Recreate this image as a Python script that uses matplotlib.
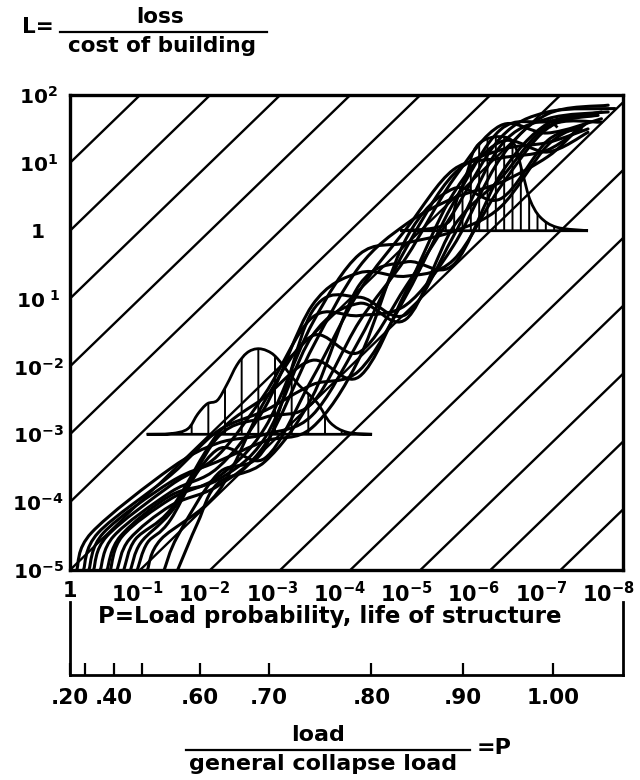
import numpy as np
import matplotlib
matplotlib.use("Agg")
import matplotlib.pyplot as plt
from matplotlib.path import Path
from matplotlib.patches import PathPatch
from matplotlib.lines import Line2D
from matplotlib.ticker import NullLocator

plt.rcParams['font.family'] = ['DejaVu Sans']
plt.rcParams['font.weight'] = 'bold'
plt.rcParams['mathtext.fontset'] = 'dejavusans'
plt.rcParams['mathtext.default'] = 'bf'
plt.rcParams['hatch.linewidth'] = 1.4

# ---------------- data (decade exponents) ----------------
# x: e = -log10(P) ; y: log10(L)
x_exp_limits = (0.0, 8.22)
y_exp_limits = (-5.0, 2.0)

x_tick_exps = [0, 1, 2, 3, 4, 5, 6, 7, 8]
x_tick_labels = ['1', r'$10^{-1}$', r'$10^{-2}$', r'$10^{-3}$', r'$10^{-4}$',
                 r'$10^{-5}$', r'$10^{-6}$', r'$10^{-7}$', r'$10^{-8}$']
y_tick_exps = [2, 1, 0, -1, -2, -3, -4, -5]
y_tick_labels = [r'$10^{2}$', r'$10^{1}$', '1', r'$10^{\ 1}$', r'$10^{-2}$',
                 r'$10^{-3}$', r'$10^{-4}$', r'$10^{-5}$']

# secondary scale: load / general collapse load
ratio_values = [0.20, 0.30, 0.40, 0.50, 0.60, 0.70, 0.80, 0.90, 1.00]
ratio_labels = ['.20', '', '.40', '', '.60', '.70', '.80', '.90', '1.00']
ratio_P_exps = [0.0, 0.22, 0.65, 1.07, 1.93, 2.96, 4.48, 5.84, 7.18]

# diagonal reference lines  log10 L = k + slope * (-log10 P)
diag_offsets = [1, 0, -1, -2, -3, -4, -5, -6, -7, -8, -9, -10, -11, -12, -13]
diag_slope = 0.96

# loss curves: (-log10 P, log10 L)
curve_01 = [(0.10, -5.0), (0.32, -4.45), (1.5, -3.5), (2.2, -3.13), (2.9, -3.0), (3.6, -2.72),
            (4.3, -1.61), (5.0, -0.25), (5.7, 0.83), (6.4, 1.19), (7.1, 1.30), (7.7, 1.50)]
curve_02 = [(0.20, -5.0), (0.42, -4.45), (1.5, -3.6), (2.2, -2.95), (2.9, -2.65), (3.6, -2.27),
            (4.3, -2.06), (5.0, -0.95), (5.7, 0.41), (6.4, 1.49), (7.1, 1.61), (7.9, 1.75)]
curve_03 = [(0.35, -5.0), (0.55, -4.5), (1.5, -3.75), (2.2, -3.31), (2.9, -2.4), (3.6, -1.28),
            (4.3, -1.25), (5.0, -1.09), (5.7, -0.22), (6.4, 1.07), (7.1, 1.72), (8.0, 1.85)]
curve_04 = [(0.45, -5.0), (0.65, -4.5), (1.5, -3.85), (2.2, -3.49), (2.9, -2.6), (3.6, -1.1),
            (4.3, -0.62), (5.0, -0.67), (5.7, -0.43), (6.4, 0.65), (7.1, 1.51), (7.8, 1.70)]
curve_05 = [(0.60, -5.0), (0.78, -4.5), (1.5, -3.95), (2.2, -3.63), (2.9, -2.9), (3.6, -1.37),
            (4.3, -0.35), (5.0, -0.18), (5.7, -0.01), (6.4, 0.35), (7.1, 1.26), (7.6, 1.55)]
curve_06 = [(0.70, -5.0), (0.88, -4.55), (1.5, -4.05), (2.2, -3.76), (2.9, -3.15), (3.6, -1.73),
            (4.3, -0.53), (5.0, 0.10), (5.7, 0.48), (6.4, 0.71), (7.1, 1.09), (7.5, 1.45)]
curve_07 = [(0.90, -5.0), (1.05, -4.6), (1.5, -4.15), (2.2, -3.22), (2.9, -3.35), (3.6, -2.18),
            (4.3, -0.89), (5.0, 0.03), (5.7, 0.90), (6.4, 1.07), (7.1, 1.19), (7.7, 1.60)]
curve_08 = [(1.00, -5.0), (1.15, -4.6), (1.5, -4.25), (2.2, -3.04), (2.9, -2.75), (3.6, -2.54),
            (4.3, -1.34), (5.0, -0.39), (5.7, 0.76), (6.4, 1.55), (7.1, 1.44), (7.9, 1.65)]
curve_09 = [(1.15, -5.0), (1.35, -4.55), (2.2, -3.85), (2.9, -2.5), (3.6, -1.55), (4.3, -1.79),
            (5.0, -0.81), (5.7, 0.27), (6.4, 1.37), (7.1, 1.75), (8.1, 1.80)]
curve_10 = [(1.40, -5.0), (1.60, -4.5), (2.2, -3.58), (2.9, -3.2), (3.6, -1.19), (4.3, -0.98),
            (5.0, -1.23), (5.7, -0.08), (6.4, 1.25), (7.1, 1.65), (8.0, 1.75)]
curve_11 = [(1.60, -5.0), (1.90, -4.3), (2.2, -3.72), (2.9, -3.4), (3.6, -2.45), (4.3, -0.8),
            (5.0, -0.46), (5.7, -0.5), (6.4, 0.83), (7.1, 1.58), (7.85, 1.70)]
curve_12 = [(0.28, -5.0), (0.50, -4.45), (1.5, -3.7), (2.2, -3.4), (2.9, -3.1), (3.6, -2.9),
            (4.3, -1.88), (5.0, -0.11), (5.7, 0.62), (6.4, 0.47), (7.1, 1.33), (7.6, 1.50)]
curve_13 = [(0.80, -5.0), (0.97, -4.55), (1.5, -4.1), (2.2, -2.99), (2.9, -2.45), (3.6, -1.91),
            (4.3, -2.15), (5.0, -0.88), (5.7, 0.55), (6.4, 1.31), (7.1, 1.16), (7.7, 1.45)]
curve_14 = [(0.55, -5.0), (0.75, -4.5), (1.5, -3.9), (2.2, -3.67), (2.9, -3.05), (3.6, -1.55),
            (4.3, -1.07), (5.0, -1.3), (5.7, 0.06), (6.4, 0.77), (7.1, 1.54), (7.9, 1.60)]
loss_curves = [curve_01, curve_02, curve_03, curve_04, curve_05, curve_06, curve_07,
               curve_08, curve_09, curve_10, curve_11, curve_12, curve_13, curve_14]

# hatched distributions (outline above a baseline decade)
lower_bell = [(1.14, -3.0), (1.5, -2.99), (1.75, -2.92), (1.9, -2.7), (2.04, -2.55), (2.19, -2.5),
              (2.33, -2.27), (2.48, -1.98), (2.63, -1.8), (2.78, -1.74), (2.93, -1.77),
              (3.08, -1.88), (3.38, -2.25), (3.67, -2.53), (3.87, -2.83), (4.12, -2.97), (4.49, -3.0)]
upper_bell = [(4.91, 0.0), (5.4, 0.04), (5.65, 0.15), (5.75, 0.45), (5.9, 0.85), (5.99, 1.15),
              (6.1, 1.3), (6.29, 1.38), (6.5, 1.37), (6.62, 1.24), (6.74, 0.8), (6.84, 0.45),
              (6.99, 0.2), (7.24, 0.05), (7.7, 0.0)]
marker_point = (7.18, 1.59)


def smooth_path(points, close=False):
    pts = np.asarray(points, float)
    n = len(pts)
    verts = [pts[0]]
    codes = [Path.MOVETO]
    for i in range(n - 1):
        p0 = pts[max(i - 1, 0)]
        p1 = pts[i]
        p2 = pts[i + 1]
        p3 = pts[min(i + 2, n - 1)]
        verts += [p1 + (p2 - p0) / 6.0, p2 - (p3 - p1) / 6.0, p2]
        codes += [Path.CURVE4] * 3
    if close:
        verts += [pts[0], pts[0]]
        codes += [Path.LINETO, Path.CLOSEPOLY]
    v = np.asarray(verts)
    data = np.column_stack([10.0 ** (-v[:, 0]), 10.0 ** v[:, 1]])
    return Path(data, codes)


W, H = 640, 780
fig = plt.figure(figsize=(W / 100, H / 100), dpi=100)

ax_l, ax_r, ax_t, ax_b = 70, 623, 95, 570
ax = fig.add_axes([ax_l / W, 1 - ax_b / H, (ax_r - ax_l) / W, (ax_b - ax_t) / H])
ax.set_xscale('log')
ax.set_yscale('log')
ax.set_xlim(10 ** -x_exp_limits[0], 10 ** -x_exp_limits[1])
ax.set_ylim(10 ** y_exp_limits[0], 10 ** y_exp_limits[1])

# diagonal lines
u_line = np.array([-2.0, 12.0])
for k in diag_offsets:
    ax.plot(10.0 ** (-u_line), 10.0 ** (k + diag_slope * u_line), color='black', lw=1.7,
            solid_capstyle='butt')

# bells
for bell, hatch in [(lower_bell, '|'), (upper_bell, '||')]:
    ax.add_patch(PathPatch(smooth_path(bell, close=True), facecolor='none',
                           edgecolor='black', lw=2.0, hatch=hatch))

# loss curves
for c in loss_curves:
    ax.add_patch(PathPatch(smooth_path(c), facecolor='none', edgecolor='black', lw=2.2,
                           capstyle='round', joinstyle='round'))

ax.plot([10 ** -marker_point[0]], [10 ** marker_point[1]], marker='x', color='black',
        ms=6, mew=2.0)

for s in ax.spines.values():
    s.set_linewidth(2.4)

ax.xaxis.set_minor_locator(NullLocator())
ax.yaxis.set_minor_locator(NullLocator())
ax.set_xticks([10.0 ** -e for e in x_tick_exps], x_tick_labels)
ax.set_yticks([10.0 ** e for e in y_tick_exps], y_tick_labels)
ax.tick_params(axis='both', length=0, labelsize=15)
ax.tick_params(axis='y', labelsize=14.5, pad=23)
ax.tick_params(axis='x', pad=8)
for lab in ax.get_yticklabels():
    lab.set_horizontalalignment('center')
for lab in ax.get_xticklabels() + ax.get_yticklabels():
    lab.set_fontweight('bold')

# secondary load-ratio scale
br_t, br_b = 602, 675
ax2 = fig.add_axes([ax_l / W, 1 - br_b / H, (ax_r - ax_l) / W, (br_b - br_t) / H])
ax2.set_xscale('log')
ax2.set_xlim(ax.get_xlim())
ax2.set_yticks([])
ax2.spines['top'].set_visible(False)
for s in ['left', 'right', 'bottom']:
    ax2.spines[s].set_linewidth(2.0)
ax2.xaxis.set_minor_locator(NullLocator())
ax2.set_xticks([10.0 ** -e for e in ratio_P_exps], ratio_labels)
ax2.tick_params(axis='x', direction='in', length=9, width=1.6, pad=9, labelsize=15.5)
ax2.patch.set_alpha(0)
ax2.text(0.47, 0.80, 'P=Load probability, life of structure', transform=ax2.transAxes,
         ha='center', va='center', fontsize=16.5, fontweight='bold')

# top label L = loss / cost of building
fig.text(22 / W, 1 - 27 / H, 'L=', ha='left', va='center', fontsize=15.5, fontweight='bold')
fig.text(160 / W, 1 - 17 / H, 'loss', ha='center', va='center', fontsize=15.5,
         fontweight='bold')
fig.add_artist(Line2D([60 / W, 267 / W], [1 - 32 / H, 1 - 32 / H], color='black', lw=1.6,
                      transform=fig.transFigure))
fig.text(162 / W, 1 - 46 / H, 'cost of building', ha='center', va='center', fontsize=15.5,
         fontweight='bold')

# bottom label load / general collapse load = P
fig.text(318 / W, 1 - 735 / H, 'load', ha='center', va='center', fontsize=16,
         fontweight='bold')
fig.add_artist(Line2D([186 / W, 470 / W], [1 - 750 / H, 1 - 750 / H], color='black', lw=1.6,
                      transform=fig.transFigure))
fig.text(323 / W, 1 - 764 / H, 'general collapse load', ha='center', va='center',
         fontsize=16, fontweight='bold')
fig.text(477 / W, 1 - 748 / H, '=P', ha='left', va='center', fontsize=16, fontweight='bold')

fig.savefig('out.png', dpi=100)
